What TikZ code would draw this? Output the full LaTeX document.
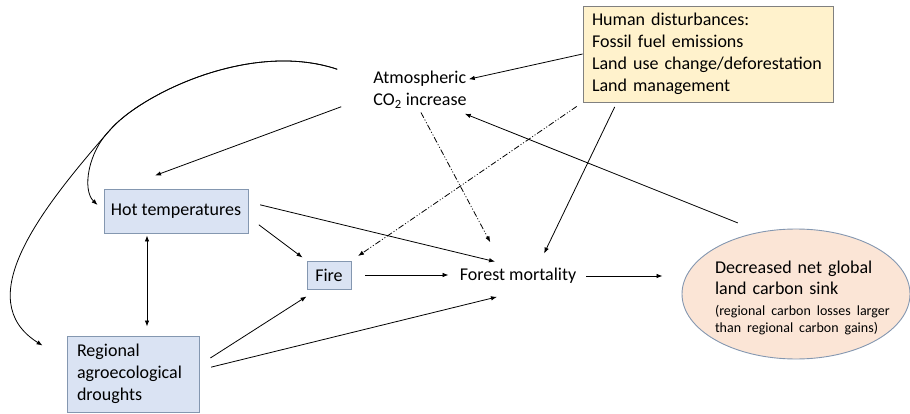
\documentclass[tikz,border=0pt]{standalone}
\usepackage{fontspec}
\setmainfont{Carlito}
\usetikzlibrary{arrows.meta,shapes.geometric}

\definecolor{boxblue}{HTML}{DAE3F3}
\definecolor{edgeblue}{HTML}{8497B0}
\definecolor{boxyellow}{HTML}{FFF2CC}
\definecolor{boxpeach}{HTML}{FBE5D6}

\tikzset{
  >={Latex[length=6pt,width=4.5pt]},
  varbox/.style={draw=edgeblue, fill=boxblue, line width=0.9pt, inner sep=0pt},
  link/.style={->, line width=0.8pt},
  dashlink/.style={link, dash pattern=on 6pt off 2pt on 1pt off 2pt on 1pt off 2pt},
}

\begin{document}
\begin{tikzpicture}[x=1pt, y=-1pt, font=\fontsize{18}{22}\selectfont]
        \useasboundingbox (0,0) rectangle (910,414);

        % nodos
        \node[draw=gray, fill=boxyellow, line width=0.9pt, minimum height=96pt,
              text width=232pt, inner xsep=9pt, align=left] (HD) at (708,54)
              {Human disturbances:\\Fossil fuel emissions\\Land use change/deforestation\\Land management};
        \node[align=left, inner sep=2pt] (CO2) at (420,90) {Atmospheric\\CO\textsubscript{2} increase};
        \node[varbox, minimum width=144pt, minimum height=44pt] (HT) at (176,211) {Hot temperatures};
        \node[varbox, minimum width=44pt, minimum height=28pt] (F) at (329,275) {Fire};
        \node[varbox, text width=112pt, inner xsep=10pt, minimum height=76pt, align=left] (RD) at (133,374)
              {Regional\\agroecological\\droughts};
        \node[inner sep=2pt] (FM) at (518,276) {Forest mortality};
        \node[ellipse, draw=edgeblue, fill=boxpeach, line width=0.9pt,
              minimum width=228pt, minimum height=130pt] (CS) at (796,294) {};
        \node[text width=180pt, align=left, inner sep=0pt] (CSt) at ([shift={(9,4)}]CS.center)
              {Decreased net global\\[-1pt]land carbon sink\\[-1pt]%
               \mbox{\fontsize{14}{17}\selectfont (regional carbon losses larger}\\[-5pt]%
               \mbox{\fontsize{14}{17}\selectfont than regional carbon gains)}};

        % human disturbances
        \draw[link] (HD.west) -- (CO2);
        \draw[dashlink, shorten <=7pt, shorten >=8pt] (HD.south west) -- (F.north east);
        \draw[link, shorten <=5pt, shorten >=14pt] (HD.208) -- ([xshift=20pt]FM.north);

        % atmospheric CO2
        \coordinate (split) at (110,130);
        \draw[dashlink, shorten <=2pt, shorten >=27pt] (CO2.south) -- ([xshift=-15pt]FM.north);
        \draw[link] ([xshift=-30pt,yshift=4pt]CO2.south west) -- ([xshift=-21pt,yshift=13pt]HT.north);
        \draw[link] ([xshift=-34pt]CO2.north west) .. controls (250,40) and (140,95) .. (split)
              .. controls (88,152) and (82,190) .. ([xshift=-6pt,yshift=6pt]HT.west);
        \draw[link] ([xshift=-34pt]CO2.north west) .. controls (250,40) and (140,95) .. (split)
              .. controls (40,210) and (-30,300) .. ([xshift=-24pt,yshift=-10pt]RD.north west);

        % hot temperatures
        \draw[link, shorten <=13pt, shorten >=5pt] ([yshift=-6pt]HT.east) -- (F.north west);
        \draw[link, shorten <=12pt, shorten >=2pt] ([yshift=9pt]HT.east) -- ([xshift=-21pt,yshift=4pt]FM.north);
        \draw[<->, line width=0.8pt, shorten <=2pt, shorten >=9pt] ([xshift=-29pt]HT.south) -- ([xshift=-29pt]HT.south |- RD.north);

        % fire y droughts
        \draw[link, shorten <=14pt, shorten >=9pt] (F.east) -- (F.east -| FM.west);
        \draw[link, shorten <=13pt] ([yshift=9pt]RD.east) -- ([yshift=-7pt]F.south west);
        \draw[link, shorten <=12pt] ([yshift=4pt]RD.east) -- ([xshift=-21pt,yshift=-11pt]FM.south);

        % sink
        \draw[link, shorten <=8pt, shorten >=19pt] (FM.east) -- (FM.east -| CS.west);
        \draw[link, shorten <=24pt] (CS.120) -- ([xshift=-4pt,yshift=-3pt]CO2.south east);
\end{tikzpicture}
\end{document}
